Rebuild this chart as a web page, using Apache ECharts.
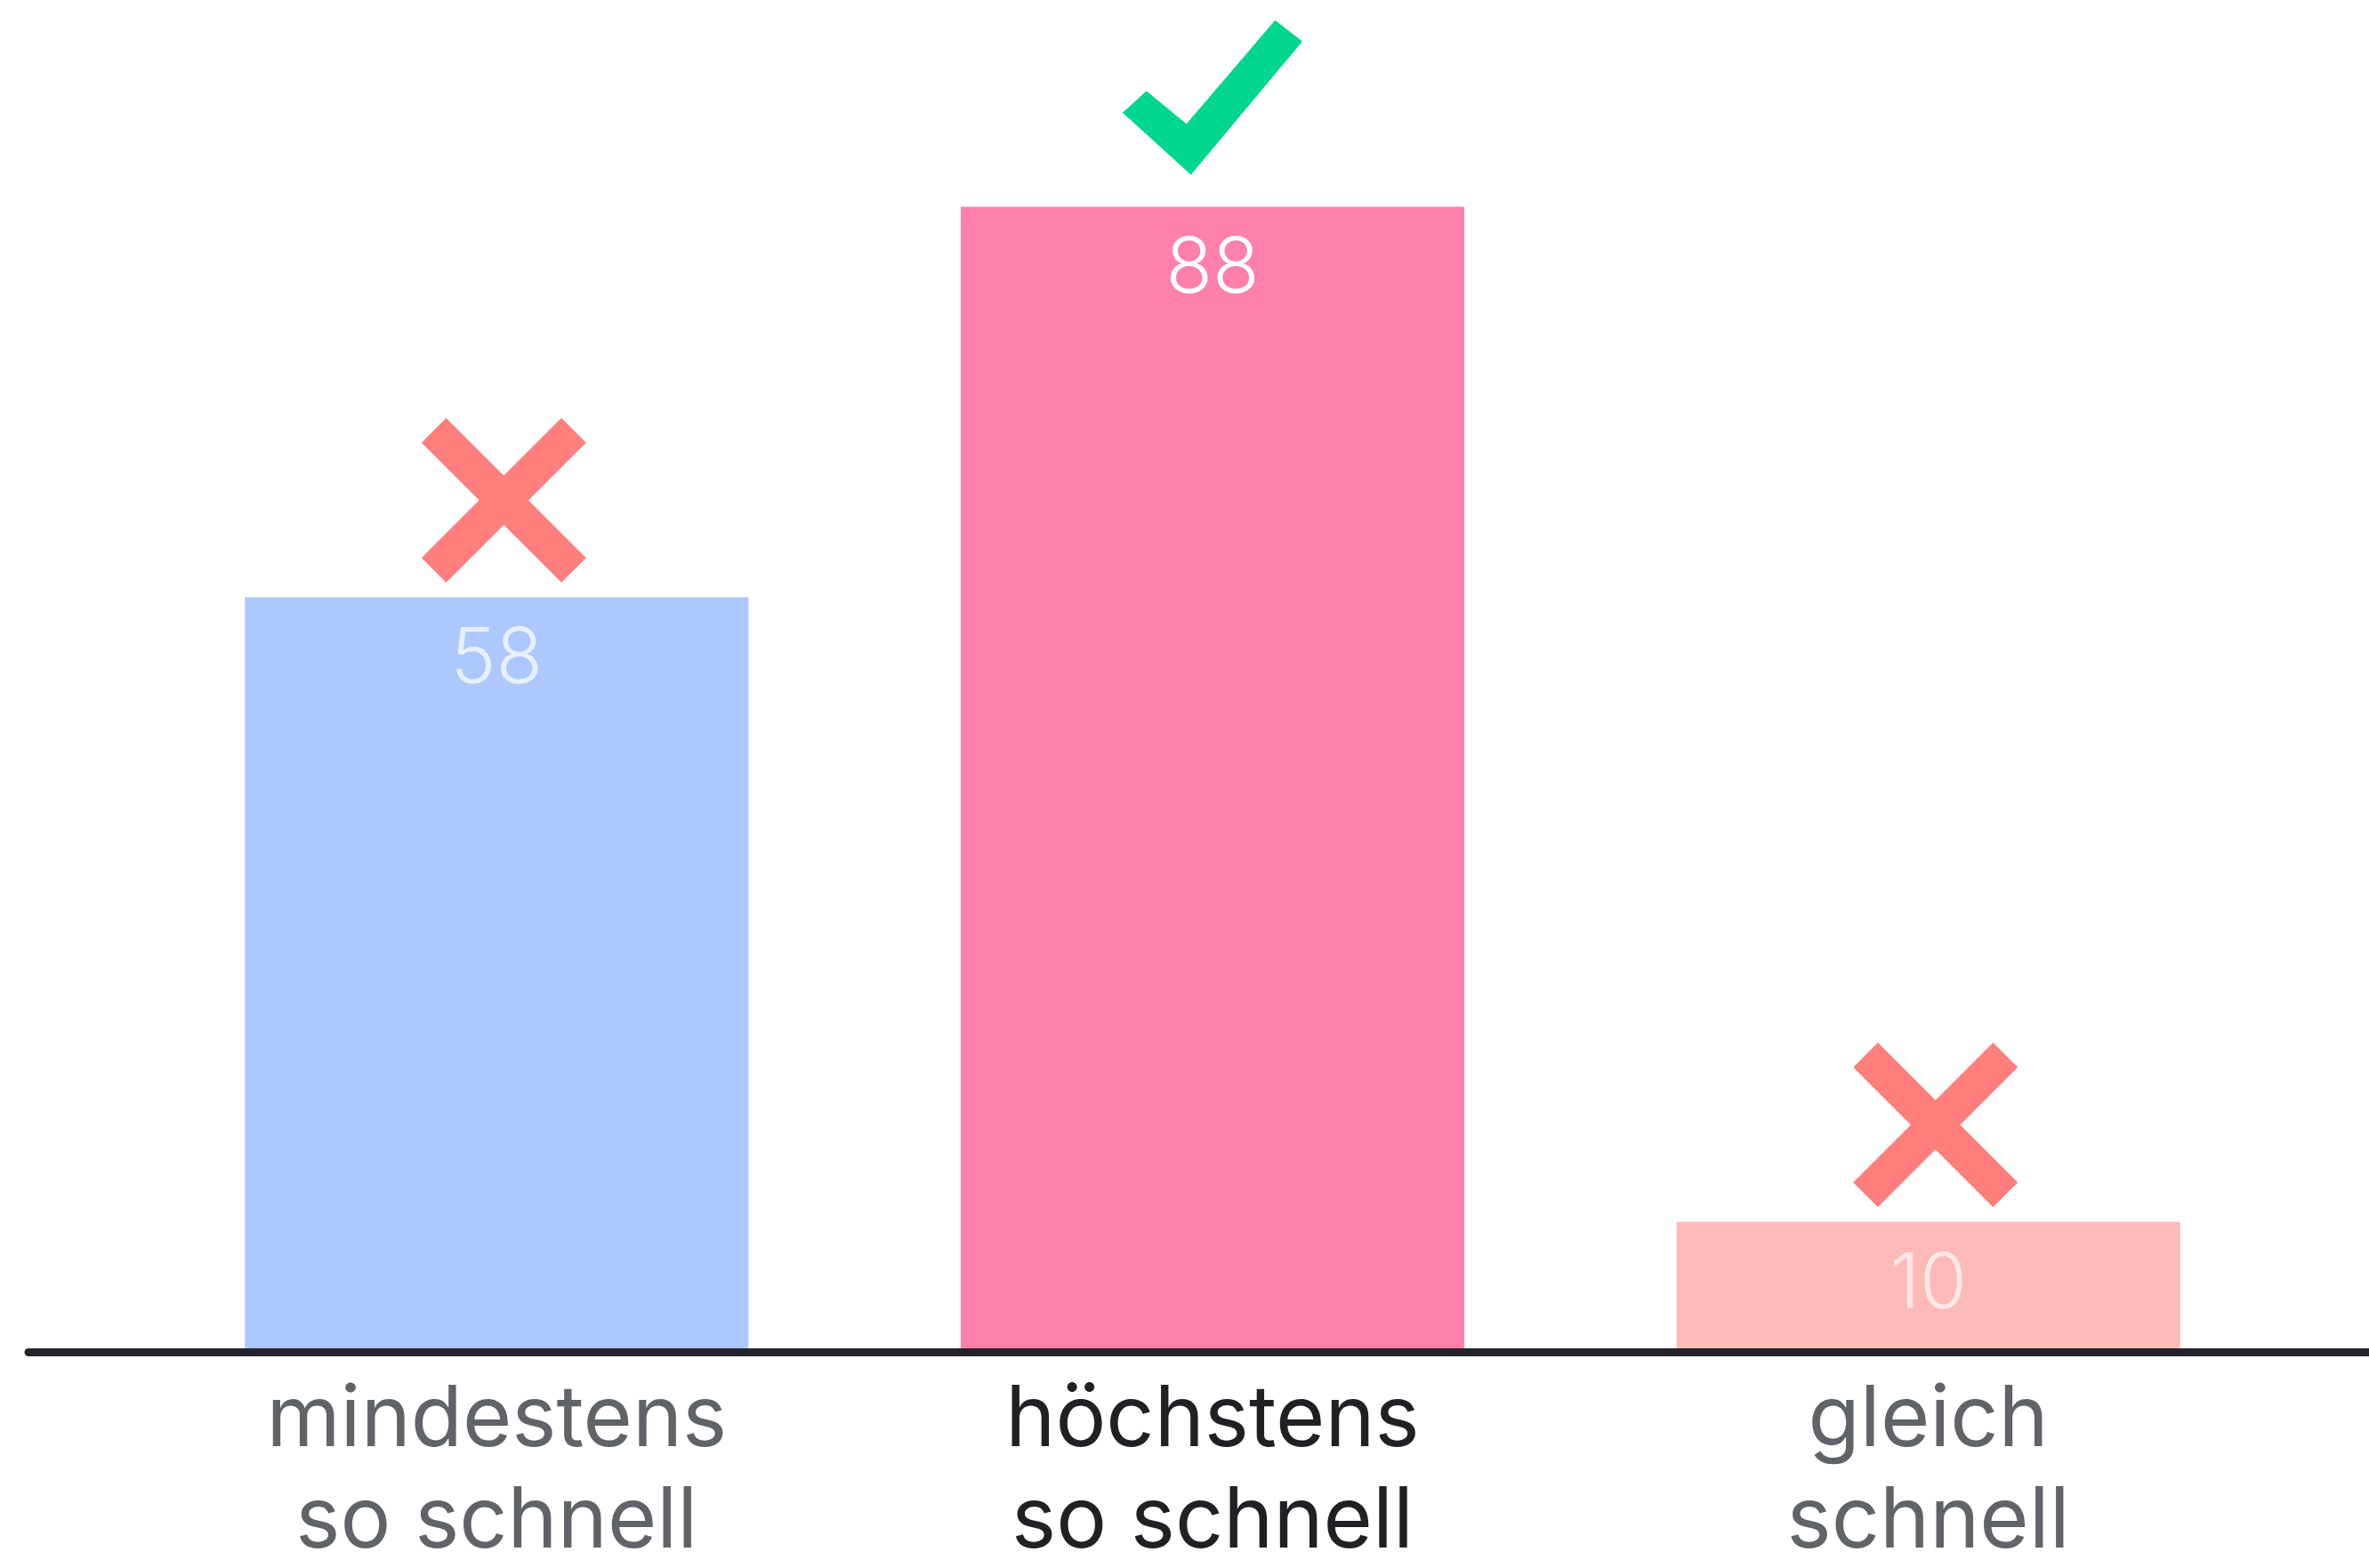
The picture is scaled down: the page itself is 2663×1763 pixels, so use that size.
<!DOCTYPE html>
<html>
<head>
<meta charset="utf-8">
<script src="https://cdn.jsdelivr.net/npm/echarts@6/dist/echarts.min.js"></script>
<style>
  html, body { margin: 0; padding: 0; background: #ffffff; }
  #chart { width: 2663px; height: 1763px; }
</style>
</head>
<body>
<div id="chart"></div>
<script>
// ---- data ----
const categories = ['mindestens\nso schnell', 'höchstens\nso schnell', 'gleich\nschnell'];
const values = [58, 88, 10];
const verdicts = ['wrong', 'right', 'wrong'];

// ---- styles ----
const barColors = ['#adc8fd', '#ff80a9', '#feb9b9'];
const valueLabelColors = ['rgba(255,255,255,0.72)', '#ffffff', 'rgba(255,255,255,0.65)'];
const categoryLabelColors = ['#606368', '#202124', '#606368'];
const FONT = 'Inter, "Open Sans", sans-serif';

const CROSS = 'path://M15,0 L50,35 L85,0 L100,15 L65,50 L100,85 L85,100 L50,65 L15,100 L0,85 L35,50 L0,15 Z';
const CHECK = 'path://M26.6,85.7 L71.6,125.7 L171,0 L201.6,25.7 L76.6,187.3 L0,112.3 Z';

const chart = echarts.init(document.getElementById('chart'), null, { renderer: 'canvas' });

const barData = values.map((v, i) => ({
  value: v,
  itemStyle: { color: barColors[i] },
  label: { color: valueLabelColors[i] }
}));

const markerData = values.map((v, i) => {
  const right = verdicts[i] === 'right';
  return {
    value: v,
    symbol: right ? CHECK : CROSS,
    symbolSize: right ? [202, 187] : [185, 185],
    symbolOffset: right ? [0, -123] : [8, -109],
    itemStyle: { color: right ? '#00d68f' : '#fe7f7c', opacity: 1 }
  };
});

const option = {
  backgroundColor: '#ffffff',
  animation: false,
  grid: [
    { left: 156, right: 93, top: 57, bottom: 243, containLabel: false, outerBoundsMode: 'none' },
    { left: 32, right: 0, top: 57, bottom: 243, containLabel: false, outerBoundsMode: 'none' }
  ],
  xAxis: [
    {
      type: 'category',
      gridIndex: 0,
      data: categories,
      axisLine: { show: false },
      axisTick: { show: false },
      axisLabel: {
        margin: 20,
        fontFamily: FONT,
        fontSize: 95,
        lineHeight: 114,
        color: function (value, index) { return categoryLabelColors[index]; }
      }
    },
    {
      type: 'value',
      gridIndex: 1,
      min: 0,
      max: 1,
      z: 10,
      axisLine: { show: true, lineStyle: { color: '#23252d', width: 9 } },
      axisTick: { show: false },
      axisLabel: { show: false },
      splitLine: { show: false }
    }
  ],
  yAxis: [
    { type: 'value', gridIndex: 0, min: 0, max: 100, show: false, splitLine: { show: false } },
    { type: 'value', gridIndex: 1, min: 0, max: 1, show: false, splitLine: { show: false } }
  ],
  series: [
    {
      type: 'bar',
      xAxisIndex: 0,
      yAxisIndex: 0,
      data: barData,
      barWidth: 566,
      label: {
        show: true,
        position: 'insideTop',
        distance: 28,
        fontFamily: FONT,
        fontWeight: 300,
        fontSize: 86,
        lineHeight: 86
      }
    },
    {
      type: 'scatter',
      xAxisIndex: 0,
      yAxisIndex: 0,
      data: markerData,
      symbolKeepAspect: true,
      z: 5
    }
  ]
};

chart.setOption(option);
</script>
</body>
</html>
